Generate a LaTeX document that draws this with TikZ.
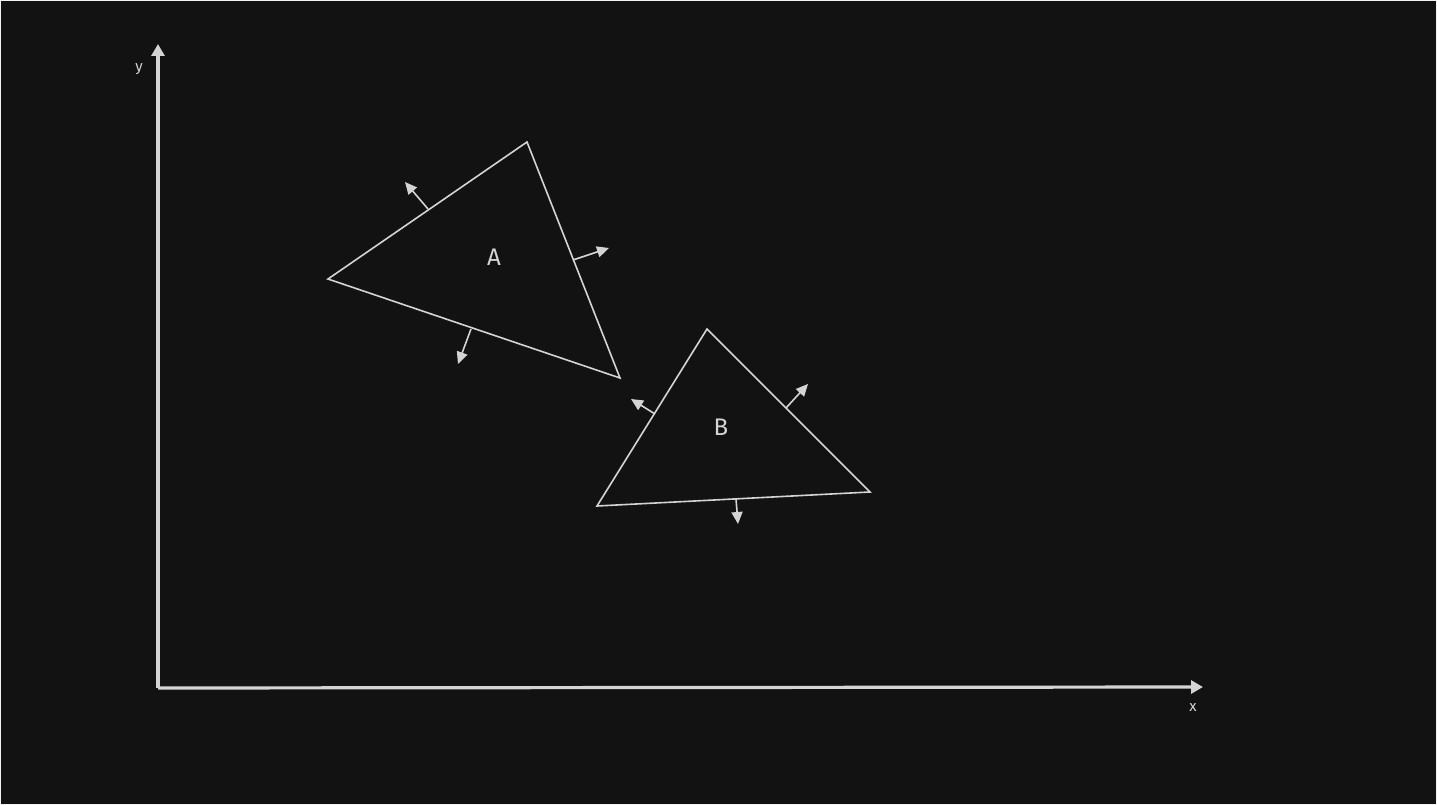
\documentclass[tikz,border=0pt]{standalone}
\usepackage{fontspec}
\setmainfont{Fira Sans}
\usetikzlibrary{arrows.meta}
\definecolor{bg}{HTML}{121212}
\definecolor{ink}{HTML}{D4D4D4}
\begin{document}
\begin{tikzpicture}[x=1pt,y=-1pt,
  axis/.style={draw=ink,line width=3.2pt,-{Triangle[length=12pt,width=13pt]}},
  tri/.style={draw=ink,line width=1.6pt,line join=miter},
  normal/.style={draw=ink,line width=1.6pt,-{Triangle[length=12pt,width=11pt]}},
  lbl/.style={text=ink,font=\fontsize{24}{26}\selectfont,inner sep=0pt}]
\fill[bg] (0,0) rectangle (1437,805);
\draw[draw=ink!30,line width=1pt] (0.5,0.5) rectangle (1436.5,804.5);
\useasboundingbox (0,0) rectangle (1437,805);
% axes
\coordinate (O) at (158,688);
\coordinate (Ytop) at (158,44);
\coordinate (Xend) at (1203,687);
\draw[axis] (O) -- (Ytop);
\draw[axis] (O) -- (Xend);
\node[lbl,font=\fontsize{15}{16}\selectfont] (ylab) at (139,69) {y};
\node[lbl,font=\fontsize{15}{16}\selectfont] (xlab) at (1193,708) {x};
% triangle A
\coordinate (A1) at (328,279);
\coordinate (A2) at (527,142);
\coordinate (A3) at (620,378);
\draw[tri] (A1) -- (A2) -- (A3) -- cycle;
\node[lbl] (labA) at (494,257) {A};
\coordinate (nA1s) at (428,209); \coordinate (nA1e) at (405,182);
\coordinate (nA2s) at (573,260); \coordinate (nA2e) at (609,248);
\coordinate (nA3s) at (471,329); \coordinate (nA3e) at (458,364);
\draw[normal] (nA1s) -- (nA1e);
\draw[normal] (nA2s) -- (nA2e);
\draw[normal] (nA3s) -- (nA3e);
% triangle B
\coordinate (B1) at (707,329);
\coordinate (B2) at (870,492);
\coordinate (B3) at (597,506);
\draw[tri] (B1) -- (B2) -- (B3) -- cycle;
\node[lbl] (labB) at (721,427) {B};
\coordinate (nB1s) at (655,414); \coordinate (nB1e) at (631,399);
\coordinate (nB2s) at (786,408); \coordinate (nB2e) at (808,384);
\coordinate (nB3s) at (736,499); \coordinate (nB3e) at (738,524);
\draw[normal] (nB1s) -- (nB1e);
\draw[normal] (nB2s) -- (nB2e);
\draw[normal] (nB3s) -- (nB3e);
\end{tikzpicture}
\end{document}
